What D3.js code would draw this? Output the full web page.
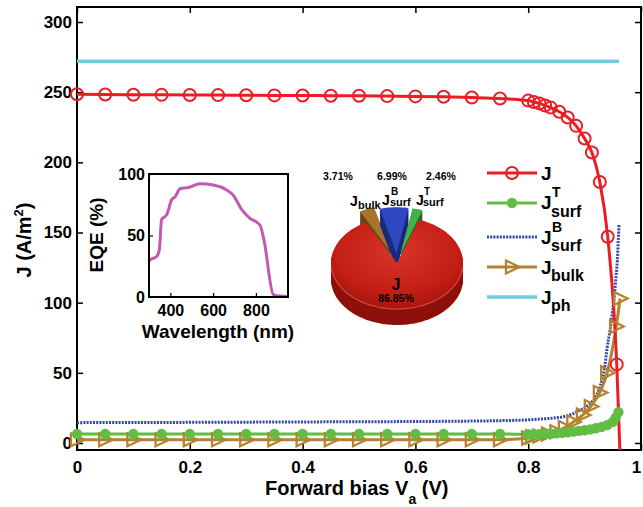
<!DOCTYPE html>
<html><head><meta charset="utf-8">
<script src="https://cdn.jsdelivr.net/npm/d3@7"></script>
<style>
body{margin:0;background:#fff}
text{font-family:"Liberation Sans",Arial,Helvetica,sans-serif;font-weight:bold;fill:#000}
</style>
</head><body>
<svg id="c" width="643" height="507"></svg>
<script>
// ---------------- data ----------------
const xTicks = [0, 0.2, 0.4, 0.6, 0.8, 1];
const yTicks = [0, 50, 100, 150, 200, 250, 300];

const vJ = [0,0.05,0.1,0.15,0.2,0.25,0.3,0.35,0.4,0.45,0.5,0.55,0.6,0.65,0.7,0.75,0.8,0.81,0.82,0.83,0.84,0.855,0.87,0.885,0.9,0.913,0.927,0.941,0.957,0.963];
const valJ = [248.5,248.3,248.2,248.1,248,247.9,247.8,247.7,247.6,247.5,247.4,247.2,247,246.7,246.2,245.5,244,243,242,240.5,239,236,232,226,217,207,186,147,56,-10];

const vT = [0,0.05,0.1,0.15,0.2,0.25,0.3,0.35,0.4,0.45,0.5,0.55,0.6,0.65,0.7,0.75,0.8,0.81,0.82,0.83,0.84,0.85,0.86,0.87,0.88,0.89,0.9,0.91,0.92,0.93,0.94,0.95,0.955,0.96];
const valT = [6.4,6.4,6.4,6.4,6.4,6.4,6.4,6.4,6.4,6.4,6.4,6.4,6.4,6.4,6.4,6.4,6.2,6.2,6.3,6.4,6.6,6.9,7.2,7.6,8.1,8.6,9.1,9.7,10.5,11.5,12.8,15,18,22];

const vB = [0,0.2,0.4,0.6,0.7,0.75,0.8,0.83,0.85,0.87,0.88,0.89,0.9,0.91,0.92,0.927,0.935,0.94,0.945,0.95,0.955,0.958,0.961];
const valB = [14.5,14.7,15,15.3,15.6,15.9,16.5,17.3,18,19.5,21,23,25,28,33,40,52,68,80,95,115,130,156];

const vK = [0,0.05,0.1,0.15,0.2,0.25,0.3,0.35,0.4,0.45,0.5,0.55,0.6,0.65,0.7,0.75,0.8,0.807,0.82,0.835,0.85,0.865,0.88,0.897,0.911,0.927,0.94,0.956,0.963];
const valK = [2.3,2.3,2.3,2.3,2.3,2.3,2.3,2.3,2.3,2.3,2.3,2.3,2.3,2.3,2.3,2.3,3.5,4.3,5,6.4,8,11,15,20,26,36,50,83,103];

const vPh = [0, 0.961];
const valPh = [272, 272];

const lambda = [300,305,336,348,359,383,406,422,445,484,538,601,663,693,734,772,819,838,881,897,945];
const eqe = [29,30,33,38,63,67,79,81.5,88,89,92,91,87,83,71,64,58.5,46,2,1,0.5];
const eqeXTicks = [400, 600, 800];
const eqeYTicks = [0, 50, 100];

const pieNames = ["J", "Jbulk", "JsurfB", "JsurfT"];
const pieValues = [86.85, 3.71, 6.99, 2.46];
const pieLabels = ["86.85%", "3.71%", "6.99%", "2.46%"];

// ---------------- setup ----------------
const svg = d3.select("#c");
const FONT = '"Liberation Sans",Arial,Helvetica,sans-serif';
const L = 77, R = 641, T = 7, B = 450;
const x = d3.scaleLinear().domain([0, 1]).range([L, R]);
const y = d3.scaleLinear().domain([-5, 310.7]).range([B, T]);

const C = {J:"#ec1c24", T:"#62bd45", B:"#3346ad", K:"#b5832f", ph:"#6ecbe0", eqe:"#c259b2"};

const defs = svg.append("defs");
defs.append("clipPath").attr("id","clipMain").append("rect")
  .attr("x",L).attr("y",T).attr("width",R-L).attr("height",B-T);

// axes
const gL = svg.append("g").attr("transform",`translate(${L},0)`)
  .call(d3.axisLeft(y).tickValues(yTicks).tickSize(-6).tickPadding(5).tickSizeOuter(0));
const gR = svg.append("g").attr("transform",`translate(${R},0)`)
  .call(d3.axisRight(y).tickValues(yTicks).tickSize(-6).tickFormat("").tickSizeOuter(0));
const gB = svg.append("g").attr("transform",`translate(0,${B})`)
  .call(d3.axisBottom(x).tickValues(xTicks).tickSize(-6).tickPadding(11).tickSizeOuter(0)
    .tickFormat(d => d === 0 ? "0" : d === 1 ? "1" : d3.format(".1f")(d)));
const gTp = svg.append("g").attr("transform",`translate(0,${T})`)
  .call(d3.axisTop(x).tickValues(xTicks).tickSize(-6).tickFormat("").tickSizeOuter(0));
[gL,gR,gB,gTp].forEach(g => {
  g.select(".domain").remove();
  g.selectAll(".tick line").attr("stroke","#000").attr("stroke-width",1.5);
  g.selectAll("text").attr("font-size",17).attr("font-family",FONT).attr("font-weight","bold").attr("fill","#000");
});
gB.selectAll(".tick text").filter(d => d === 1).attr("dx", -5);

// frame
svg.append("rect").attr("x",L).attr("y",T).attr("width",R-L).attr("height",B-T)
  .attr("fill","none").attr("stroke","#000").attr("stroke-width",2);

// axis titles
const yt = svg.append("text").attr("transform","translate(31,240) rotate(-90)")
  .attr("text-anchor","middle").attr("font-size",20);
yt.append("tspan").text("J (A/m");
yt.append("tspan").text("2").attr("font-size",13).attr("dy",-8);
yt.append("tspan").text(")").attr("dy",8);

const xt = svg.append("text").attr("x",265).attr("y",495).attr("font-size",20);
xt.append("tspan").text("Forward bias V");
xt.append("tspan").text("a").attr("font-size",14).attr("dy",9);
xt.append("tspan").text(" (V)").attr("dy",-9);

// ---------------- lines ----------------
const series = [
  {v:vPh, j:valPh, c:C.ph, w:3.5},
  {v:vB, j:valB, c:C.B, w:3, dash:"2,1.2"},
  {v:vK, j:valK, c:C.K, w:3, mk:"tri"},
  {v:vT, j:valT, c:C.T, w:3, mk:"dot"},
  {v:vJ, j:valJ, c:C.J, w:3, mk:"circ"}
];
const line = d3.line().x(d=>x(d[0])).y(d=>y(d[1])).curve(d3.curveMonotoneX);
const gLines = svg.append("g").attr("clip-path","url(#clipMain)");
const gMarks = svg.append("g");
const triPath = "M-6,-6.5L7.5,0L-6,6.5Z";
series.forEach(s => {
  const pts = s.v.map((v,i)=>[v, s.j[i]]);
  gLines.append("path").attr("d", line(pts)).attr("fill","none")
    .attr("stroke", s.c).attr("stroke-width", s.w)
    .attr("stroke-dasharray", s.dash || null);
});
series.forEach(s => {
  const pts = s.v.map((v,i)=>[v, s.j[i]]).filter(p => p[1] >= 0);
  if (s.mk === "circ") {
    gMarks.selectAll(null).data(pts).join("circle")
      .attr("cx",d=>x(d[0])).attr("cy",d=>y(d[1])).attr("r",6)
      .attr("fill","none").attr("stroke",s.c).attr("stroke-width",2);
  } else if (s.mk === "dot") {
    gMarks.selectAll(null).data(pts).join("circle")
      .attr("cx",d=>x(d[0])).attr("cy",d=>y(d[1])).attr("r",5.2).attr("fill",s.c);
  } else if (s.mk === "tri") {
    gMarks.selectAll(null).data(pts).join("path")
      .attr("d",triPath).attr("transform",d=>`translate(${x(d[0])},${y(d[1])})`)
      .attr("fill","none").attr("stroke",s.c).attr("stroke-width",2.3).attr("stroke-linejoin","miter");
  }
});

// ---------------- legend ----------------
const lg = svg.append("g");
const legItems = [
  {c:C.J, mk:"circ", y:173, jb:180, sub:null, sup:null},
  {c:C.T, mk:"dot", y:203, jb:209, sub:"surf", sup:"T", subB:217, supB:197},
  {c:C.B, dash:"2,1.2", y:237, jb:244, sub:"surf", sup:"B", subB:251, supB:232},
  {c:C.K, mk:"tri", y:267, jb:274, sub:"bulk", subB:281},
  {c:C.ph, y:297, jb:304, sub:"ph", subB:311, w:3.5}
];
legItems.forEach(it => {
  lg.append("line").attr("x1",487).attr("x2",537).attr("y1",it.y).attr("y2",it.y)
    .attr("stroke",it.c).attr("stroke-width",it.w||3).attr("stroke-dasharray",it.dash||null);
  if (it.mk==="circ") lg.append("circle").attr("cx",512).attr("cy",it.y).attr("r",6).attr("fill","none").attr("stroke",it.c).attr("stroke-width",2);
  if (it.mk==="dot") lg.append("circle").attr("cx",512).attr("cy",it.y).attr("r",5.2).attr("fill",it.c);
  if (it.mk==="tri") lg.append("path").attr("d",triPath).attr("transform",`translate(512,${it.y})`).attr("fill","none").attr("stroke",it.c).attr("stroke-width",2.3);
  lg.append("text").attr("x",541).attr("y",it.jb).attr("font-size",19).text("J");
  if (it.sup) lg.append("text").attr("x",552).attr("y",it.supB).attr("font-size",14).text(it.sup);
  if (it.sub) lg.append("text").attr("x",551).attr("y",it.subB).attr("font-size",16).text(it.sub);
});

// ---------------- inset EQE ----------------
const iL = 149, iR = 288, iT = 174, iB = 297;
const ix = d3.scaleLinear().domain([300, 950]).range([iL, iR]);
const iy = d3.scaleLinear().domain([0, 100]).range([iB, iT]);
svg.append("rect").attr("x",iL).attr("y",iT).attr("width",iR-iL).attr("height",iB-iT).attr("fill","#fff");
const giB = svg.append("g").attr("transform",`translate(0,${iB})`)
  .call(d3.axisBottom(ix).tickValues(eqeXTicks).tickSize(-4).tickPadding(8).tickSizeOuter(0));
const giL = svg.append("g").attr("transform",`translate(${iL},0)`)
  .call(d3.axisLeft(iy).tickValues(eqeYTicks).tickSize(-4).tickPadding(4).tickSizeOuter(0));
[giB,giL].forEach(g => {
  g.select(".domain").remove();
  g.selectAll(".tick line").attr("stroke","#000").attr("stroke-width",1.2);
  g.selectAll("text").attr("font-size",16).attr("font-family",FONT).attr("font-weight","bold").attr("fill","#000");
});
svg.append("path").attr("d", d3.line().x(d=>ix(d[0])).y(d=>iy(d[1])).curve(d3.curveMonotoneX)(lambda.map((l,i)=>[l,eqe[i]])))
  .attr("fill","none").attr("stroke",C.eqe).attr("stroke-width",3);
svg.append("rect").attr("x",iL).attr("y",iT).attr("width",iR-iL).attr("height",iB-iT)
  .attr("fill","none").attr("stroke","#000").attr("stroke-width",2);
svg.append("text").attr("transform","translate(103,235) rotate(-90)").attr("text-anchor","middle")
  .attr("font-size",19).text("EQE (%)");
svg.append("text").attr("x",218).attr("y",338).attr("text-anchor","middle").attr("font-size",19).text("Wavelength (nm)");

// ---------------- 3D pie ----------------
const pcx = 397, pcy = 263, prx = 66, pry = 46, pdepth = 16;
const rad = Math.PI/180;
const total = d3.sum(pieValues);
let start = -28 * rad;
const smallOrder = [1, 2, 3];
const angs = {};
smallOrder.forEach(i => { const a = pieValues[i]/total*2*Math.PI; angs[i] = [start, start + a]; start += a; });
angs[0] = [start, -28*rad + 2*Math.PI];

function wedge(a0, a1, ox, oy) {
  const n = Math.max(4, Math.ceil((a1-a0)/(2*rad)));
  const pts = [[pcx+ox, pcy+oy]];
  for (let i=0;i<=n;i++){ const a = a0 + (a1-a0)*i/n; pts.push([pcx+ox+prx*Math.sin(a), pcy+oy-pry*Math.cos(a)]); }
  return "M" + pts.map(p=>p[0].toFixed(2)+","+p[1].toFixed(2)).join("L") + "Z";
}
const pieCols = [
  {top:"url(#gRed)", side:"#8f100a"},
  {top:"#a8732a", side:"#6b4716"},
  {top:"#2f47bf", side:"#1b2a7c"},
  {top:"#40b24a", side:"#1f6d28"}
];
const gr = defs.append("radialGradient").attr("id","gRed").attr("cx","50%").attr("cy","35%").attr("r","65%");
gr.append("stop").attr("offset","0%").attr("stop-color","#d8342a");
gr.append("stop").attr("offset","70%").attr("stop-color","#c41f15");
gr.append("stop").attr("offset","100%").attr("stop-color","#a9150e");

const gp = svg.append("g");
const drawOrder = [1, 2, 3, 0];
drawOrder.forEach(i => {
  const [a0, a1] = angs[i];
  const mid = (a0 + a1)/2;
  const e = i === 0 ? 0 : (i === 1 ? 17 : 14);
  const ox = e*Math.sin(mid), oy = -e*(pry/prx)*Math.cos(mid);
  for (let d = pdepth; d >= 1; d--) {
    gp.append("path").attr("d", wedge(a0, a1, ox, oy + d)).attr("fill", pieCols[i].side);
  }
  gp.append("path").attr("d", wedge(a0, a1, ox, oy)).attr("fill", pieCols[i].top);
});
(function(){
  const pts=[]; for(let a=95;a<=265;a+=2){ pts.push([pcx+prx*Math.sin(a*rad), pcy-pry*Math.cos(a*rad)]); }
  gp.append("path").attr("d","M"+pts.map(p=>p.join(",")).join("L")).attr("fill","none").attr("stroke","#e25a48").attr("stroke-width",1.2).attr("opacity",0.8);
})();

// pie labels
const pl = svg.append("g");
pl.append("text").attr("x",338).attr("y",180).attr("text-anchor","middle").attr("font-size",10.5).text(pieLabels[1]);
pl.append("text").attr("x",392).attr("y",180).attr("text-anchor","middle").attr("font-size",10.5).text(pieLabels[2]);
pl.append("text").attr("x",441).attr("y",180).attr("text-anchor","middle").attr("font-size",10.5).text(pieLabels[3]);
pl.append("text").attr("x",350).attr("y",206).attr("font-size",14).text("J");
pl.append("text").attr("x",358).attr("y",209).attr("font-size",11).text("bulk");
pl.append("text").attr("x",382).attr("y",205).attr("font-size",14).text("J");
pl.append("text").attr("x",391).attr("y",195).attr("font-size",10).text("B");
pl.append("text").attr("x",390).attr("y",206).attr("font-size",11).text("surf");
pl.append("text").attr("x",416).attr("y",205).attr("font-size",14).text("J");
pl.append("text").attr("x",424).attr("y",195).attr("font-size",10).text("T");
pl.append("text").attr("x",423).attr("y",206).attr("font-size",11).text("surf");
pl.append("text").attr("x",396).attr("y",290).attr("text-anchor","middle").attr("font-size",16).text("J");
pl.append("text").attr("x",396).attr("y",302).attr("text-anchor","middle").attr("font-size",10.5).text(pieLabels[0]);
</script>
</body></html>
